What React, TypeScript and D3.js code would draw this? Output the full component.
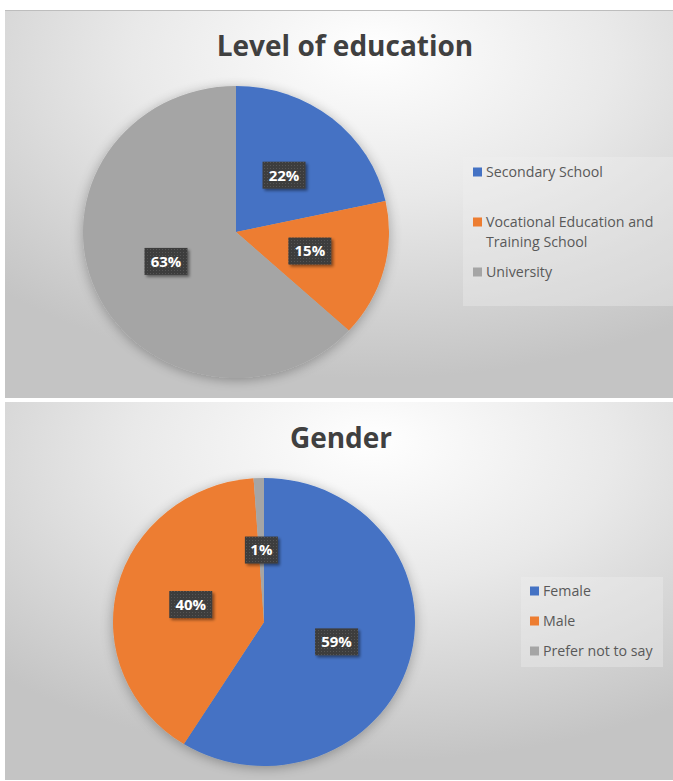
import React from "react";
import * as d3 from "d3";

const eduTitle = "Level of education";
const eduCategories = ["Secondary School", "Vocational Education and Training School", "University"];
const eduLegendLines = [["Secondary School"], ["Vocational Education and", "Training School"], ["University"]];
const eduValues = [21.6, 15.2, 63.2];
const eduLabels = ["22%", "15%", "63%"];

const genderTitle = "Gender";
const genderCategories = ["Female", "Male", "Prefer not to say"];
const genderLegendLines = [["Female"], ["Male"], ["Prefer not to say"]];
const genderValues = [58.9, 40.0, 1.1];
const genderLabels = ["59%", "40%", "1%"];

const sliceColors = ["#4472C4", "#ED7D31", "#A5A5A5"];

const FONT = "'Open Sans', 'Noto Sans', sans-serif";

type PanelProps = {
  id: string;
  x: number; y: number; w: number; h: number;
  title: string; titleY: number; titleX: number;
  categories: string[]; legendLines: string[][]; values: number[]; labels: string[];
  cx: number; cy: number; rx: number; ry: number;
  legendBox: { x: number; y: number; w: number; h: number };
  legendRows: number[];
  legendX: number;
};

function Panel(p: PanelProps) {
  const pie = d3.pie<number>().sort(null).value((d) => d);
  const arcs = pie(p.values);
  const arc = d3.arc<d3.PieArcDatum<number>>().innerRadius(0).outerRadius(p.ry);
  const labelArc = d3.arc<d3.PieArcDatum<number>>().innerRadius(p.ry * 0.5).outerRadius(p.ry * 0.5);
  const color = d3.scaleOrdinal<string, string>().domain(p.categories).range(sliceColors);
  const sx = p.rx / p.ry;
  return (
    <g>
      <rect x={p.x} y={p.y} width={p.w} height={p.h} fill={`url(#bg-${p.id})`} />
      <text x={p.titleX} y={p.titleY} textAnchor="middle" fontFamily={FONT} fontWeight={700}
        fontSize={28} fill="#404040">{p.title}</text>
      <g transform={`translate(${p.cx},${p.cy}) scale(${sx},1)`} filter="url(#pieShadow)">
        {arcs.map((a, i) => (
          <path key={i} d={arc(a) || ""} fill={color(p.categories[i])} />
        ))}
      </g>
      {arcs.map((a, i) => {
        const [lx, ly] = labelArc.centroid(a);
        const px = p.cx + lx * sx;
        const py = p.cy + ly;
        const bw = p.labels[i].length >= 3 ? 43 : 33;
        const bh = 27;
        return (
          <g key={"l" + i}>
            <rect x={px - bw / 2} y={py - bh / 2} width={bw} height={bh} fill="url(#dots)" filter="url(#boxShadow)" />
            <text x={px} y={py} dy="0.36em" textAnchor="middle" fontFamily={FONT} fontWeight={700}
              fontSize={15} fill="#ffffff">{p.labels[i]}</text>
          </g>
        );
      })}
      <rect x={p.legendBox.x} y={p.legendBox.y} width={p.legendBox.w} height={p.legendBox.h}
        fill="#f2f2f2" fillOpacity={0.35} />
      {p.legendLines.map((lines, i) => (
        <g key={"lg" + i}>
          <rect x={p.legendX} y={p.legendRows[i] - 4.5} width={9} height={9} fill={color(p.categories[i])} />
          {lines.map((t, j) => (
            <text key={j} x={p.legendX + 13} y={p.legendRows[i] + j * 20} dy="0.35em" fontFamily={FONT}
              fontSize={14.2} fill="#595959">{t}</text>
          ))}
        </g>
      ))}
    </g>
  );
}

export default function App() {
  return (
    <svg width={673} height={781} style={{ position: "absolute", left: 0, top: 0, background: "#fff" }}>
      <defs>
        {["top", "bot"].map((id) => (
          <radialGradient key={id} id={`bg-${id}`} cx="0.55" cy="0.15" r="0.8" fx="0.55" fy="0.1">
            <stop offset="0" stopColor="#ffffff" />
            <stop offset="0.45" stopColor="#e9e9e9" />
            <stop offset="1" stopColor="#c4c4c4" />
          </radialGradient>
        ))}
        <pattern id="dots" width={3} height={3} patternUnits="userSpaceOnUse">
          <rect width={3} height={3} fill="#3d3d3d" />
          <rect width={1} height={1} fill="#555555" />
        </pattern>
        <filter id="pieShadow" x="-20%" y="-20%" width="140%" height="140%">
          <feGaussianBlur in="SourceAlpha" stdDeviation={6} />
          <feOffset dy={2} result="b" />
          <feComponentTransfer>
            <feFuncA type="linear" slope={0.3} />
          </feComponentTransfer>
          <feMerge>
            <feMergeNode />
            <feMergeNode in="SourceGraphic" />
          </feMerge>
        </filter>
        <filter id="boxShadow" x="-30%" y="-30%" width="160%" height="160%">
          <feGaussianBlur in="SourceAlpha" stdDeviation={1.5} />
          <feOffset dx={2} dy={2} />
          <feComponentTransfer>
            <feFuncA type="linear" slope={0.45} />
          </feComponentTransfer>
          <feMerge>
            <feMergeNode />
            <feMergeNode in="SourceGraphic" />
          </feMerge>
        </filter>
      </defs>
      <Panel id="top" x={5} y={10} w={668} h={388}
        title={eduTitle} titleX={345} titleY={56}
        categories={eduCategories} legendLines={eduLegendLines} values={eduValues} labels={eduLabels}
        cx={236} cy={232} rx={153} ry={146}
        legendBox={{ x: 463, y: 157, w: 210, h: 149 }}
        legendRows={[172, 222, 272]} legendX={473} />
      <line x1={5} x2={673} y1={10.5} y2={10.5} stroke="#bdbdbd" />
      <Panel id="bot" x={5} y={402} w={668} h={378}
        title={genderTitle} titleX={341} titleY={448}
        categories={genderCategories} legendLines={genderLegendLines} values={genderValues} labels={genderLabels}
        cx={264} cy={622} rx={151} ry={144}
        legendBox={{ x: 521, y: 577, w: 142, h: 90 }}
        legendRows={[591, 621, 651]} legendX={530} />
    </svg>
  );
}
